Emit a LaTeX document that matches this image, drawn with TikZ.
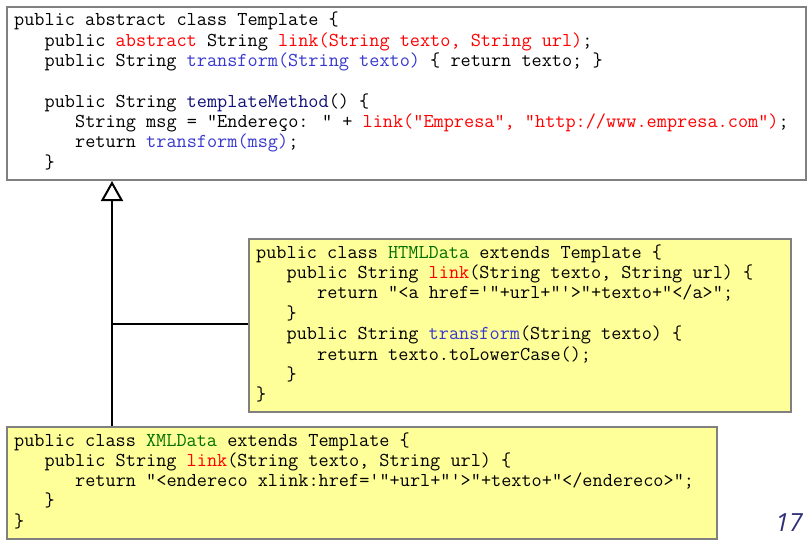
\documentclass[tikz,border=0pt]{standalone}
\usepackage{fontspec}
\newfontfamily\pagefont{Open Sans}
\usetikzlibrary{arrows.meta}
\definecolor{kred}{HTML}{FF0000}
\definecolor{kblue}{HTML}{3838D0}
\definecolor{knavy}{HTML}{10107A}
\definecolor{kgreen}{HTML}{007000}
\definecolor{kgray}{HTML}{808080}
\definecolor{kyellow}{HTML}{FFFF99}
\definecolor{pnum}{HTML}{2E2E7A}
\newcommand{\R}[1]{\textcolor{kred}{#1}}
\newcommand{\B}[1]{\textcolor{kblue}{#1}}
\newcommand{\N}[1]{\textcolor{knavy}{#1}}
\newcommand{\G}[1]{\textcolor{kgreen}{#1}}
\tikzset{
  box/.style={draw=kgray, line width=2pt, rectangle, inner sep=0pt, anchor=north west},
  whitebox/.style={box, fill=white},
  yelbox/.style={box, fill=kyellow},
  code/.style={anchor=base west, inner sep=0pt, font=\ttfamily\fontsize{19.7}{20.3}\selectfont, text=black},
  conn/.style={draw=black, line width=2pt},
}
\begin{document}
\begin{tikzpicture}[x=1pt,y=-1pt]
\useasboundingbox (0,0) rectangle (809,543);
% boxes
\node[whitebox, minimum width=799pt, minimum height=173pt] (tmpl) at (6,6) {};
\node[yelbox, minimum width=542pt, minimum height=173pt] (html) at (248,238) {};
\node[yelbox, minimum width=710pt, minimum height=112pt] (xml) at (6,426) {};
% Template text
\node[code] (t1) at (14,26) {public abstract class Template \{};
\node[code] (t2) at (44.5,46.3) {public \R{abstract} String \R{link(String texto, String url)};};
\node[code] (t3) at (44.5,66.6) {public String \B{transform(String texto)} \{ return texto; \}};
\node[code] (t5) at (44.5,107.2) {public String \N{templateMethod}() \{};
\node[code] (t6) at (75,127.5) {String msg = "Endereço: " + \R{link("Empresa", "http://www.empresa.com")};};
\node[code] (t7) at (75,147.8) {return \B{transform(msg)};};
\node[code] (t8) at (44.5,168.1) {\}};
% HTMLData text
\node[code] (h1) at (256,258) {public class \G{HTMLData} extends Template \{};
\node[code] (h2) at (286.5,278.4) {public String \R{link}(String texto, String url) \{};
\node[code] (h3) at (317,298.8) {return "<a href='"+url+"'>"+texto+"</a>";};
\node[code] (h4) at (286.5,319.2) {\}};
\node[code] (h5) at (286.5,339.6) {public String \B{transform}(String texto) \{};
\node[code] (h6) at (317,360) {return texto.toLowerCase();};
\node[code] (h7) at (286.5,380.4) {\}};
\node[code] (h8) at (256,400.8) {\}};
% XMLData text
\node[code] (x1) at (14,446) {public class \G{XMLData} extends Template \{};
\node[code] (x2) at (44.5,466.3) {public String \R{link}(String texto, String url) \{};
\node[code] (x3) at (75,486.6) {return "<endereco xlink:href='"+url+"'>"+texto+"</endereco>";};
\node[code] (x4) at (44.5,506.9) {\}};
\node[code] (x5) at (14,527.2) {\}};
% connectors
\coordinate (jn) at (112,324);
\draw[conn, -{Triangle[open, length=20pt, width=22pt, line width=2pt]}] (jn |- xml.north) -- (jn |- tmpl.south);
\draw[conn] (jn) -- (jn -| html.west);
% page number
\node[anchor=base east, inner sep=0pt, text=pnum, font=\pagefont\itshape\fontsize{25}{25}\selectfont] (pg) at (803,531) {17};
\end{tikzpicture}
\end{document}
